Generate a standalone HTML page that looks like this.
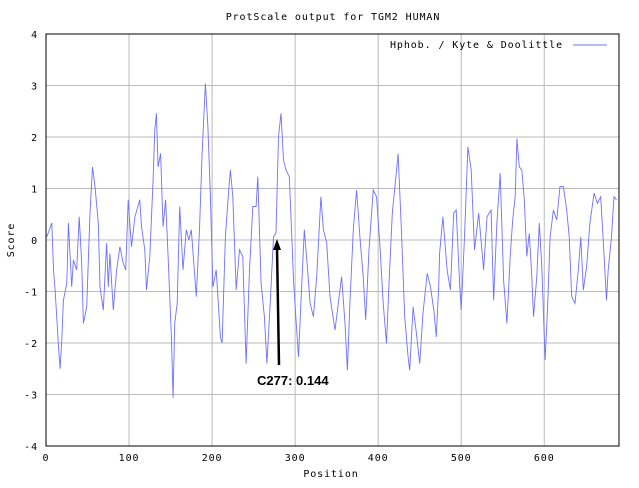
<!DOCTYPE html>
<html><head><meta charset="utf-8"><style>
body{margin:0;background:#fff;width:639px;height:483px;overflow:hidden}
svg text{font-family:"DejaVu Sans Mono","Liberation Mono",monospace;font-size:10px;fill:#000;letter-spacing:0.9px}
</style></head><body>
<svg id="chart" width="639" height="483" xmlns="http://www.w3.org/2000/svg">
<text x="333" y="20" text-anchor="middle">ProtScale output for TGM2 HUMAN</text>
<g id="grid"></g>
<g id="ticks"></g>
<rect x="46" y="34" width="573" height="412" fill="none" stroke="#000" stroke-width="1"/>
<polyline id="series" fill="none" stroke="#7070ff" stroke-width="0.9"/>
<text x="390" y="48">Hphob. / Kyte &amp; Doolittle</text>
<line x1="573" y1="45" x2="607" y2="45" stroke="#7070ff"/>
<text transform="translate(14,240) rotate(-90)" text-anchor="middle">Score</text>
<text x="331" y="477" text-anchor="middle">Position</text>
<line x1="279" y1="365" x2="277" y2="248" stroke="#000" stroke-width="2.5"/>
<polygon points="277,239 273,250 281,250" fill="#000"/>
<text x="257" y="385" style="font-family:'Liberation Sans',sans-serif;font-weight:bold;font-size:13px;letter-spacing:0">C277: 0.144</text>
</svg>
<script>
const positions=[1,7,9,11,15,17,19,21,25,27,31,33,37,40,43,45,49,53,56,59,63,65,69,73,75,77,81,85,89,93,96,99,103,107,113,115,119,121,125,129,131,133,135,138,141,144,147,151,153,155,158,161,165,169,
172,175,181,185,188,192,195,198,201,205,210,212,216,220,222,225,229,233,237,241,245,249,253,255,259,263,266,270,274,277,280,283,286,289,293,296,298,301,304,307,311,315,318,322,326,331,334,338,
342,348,352,356,360,363,366,370,374,378,382,385,389,394,398,402,406,410,413,417,421,424,428,432,436,438,442,446,450,454,459,463,467,470,473,474,478,483,487,491,494,498,500,504,508,512,516,
521,527,531,536,539,543,547,551,555,559,562,565,567,570,573,576,579,582,585,587,591,594,597,601,604,607,611,615,619,623,627,630,633,637,641,644,647,651,655,660,664,668,671,675,677,681,684,687];
const scores=[0.06,0.33,-0.58,-0.97,-2.07,-2.5,-1.94,-1.17,-0.84,0.33,-0.91,-0.39,-0.58,0.45,-0.45,-1.62,-1.3,0.52,1.42,1.04,0.33,-0.91,-1.36,-0.06,-0.91,-0.26,-1.36,-0.58,-0.13,-0.45,-0.58,0.78,-0.13,0.45,0.78,0.26,-0.19,-0.97,-0.32,1.17,2.14,2.46,1.42,1.68,0.26,0.78,-0.32,-1.88,-3.06,-1.62,-1.23,0.65,-0.58,0.2,
0.0,0.2,-1.1,0.26,1.68,3.04,2.2,0.84,-0.91,-0.58,-1.88,-2.0,0.06,0.97,1.36,0.84,-0.97,-0.19,-0.32,-2.4,-0.58,0.65,0.65,1.23,-0.84,-1.49,-2.4,-1.23,0.06,0.144,2.01,2.46,1.55,1.36,1.23,0.06,-0.78,-1.55,-2.27,-1.23,0.2,-0.58,-1.23,-1.49,-0.71,0.84,0.2,-0.06,
-1.1,-1.75,-1.23,-0.71,-1.62,-2.53,-1.23,0.2,0.97,0.06,-0.71,-1.55,-0.19,0.97,0.84,-0.06,-1.23,-2.01,-0.84,0.52,1.17,1.68,0.2,-1.49,-2.27,-2.53,-1.3,-1.81,-2.4,-1.42,-0.65,-0.91,-1.36,-1.88,-0.84,-0.26,0.45,-0.58,-0.97,0.52,0.58,-0.84,-1.36,0.06,1.81,1.36,-0.19,
0.52,-0.58,0.45,0.58,-1.17,0.33,1.3,-0.78,-1.62,-0.32,0.39,0.84,1.97,1.42,1.36,0.78,-0.32,0.13,-0.71,-1.49,-0.71,0.33,-0.52,-2.33,-1.3,0.06,0.58,0.39,1.04,1.04,0.58,0.06,-1.1,-1.23,-0.58,0.06,-0.97,-0.52,0.33,0.91,0.71,0.84,0.0,-1.17,-0.58,0.06,0.84,0.78];
const xTicks=[0,100,200,300,400,500,600];
const yTicks=[-4,-3,-2,-1,0,1,2,3,4];
const X=v=>46+v*(573/690);
const Y=v=>240-v*51.5;
const NS='http://www.w3.org/2000/svg';
const grid=document.getElementById('grid'),ticks=document.getElementById('ticks');
function mk(tag,attrs,parent){const e=document.createElementNS(NS,tag);for(const k in attrs)e.setAttribute(k,attrs[k]);parent.appendChild(e);return e;}
yTicks.forEach(t=>{
  const g=mk('line',{x1:46,x2:619,y1:Y(t),y2:Y(t),stroke:'#bbb','stroke-width':1},grid);
  
  
  const l=mk('text',{x:38,y:Y(t)+4,'text-anchor':'end'},ticks);
  
  
  l.textContent=t;
});
xTicks.forEach(t=>{
  const g=mk('line',{x1:X(t),x2:X(t),y1:34,y2:446,stroke:'#bbb','stroke-width':1},grid);
  
  
  const l=mk('text',{x:X(t),y:461,'text-anchor':'middle'},ticks);
  
  
  l.textContent=t;
});
document.getElementById('series').setAttribute('points',positions.map((p,i)=>X(p).toFixed(1)+','+Y(scores[i]).toFixed(1)).join(' '));
</script>
</body></html>
